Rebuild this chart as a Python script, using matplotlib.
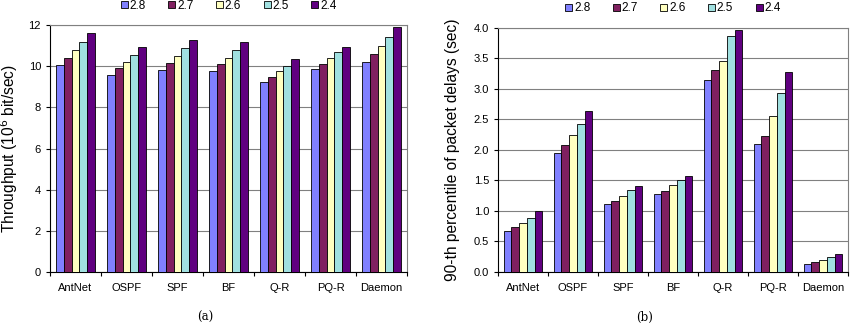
import matplotlib
matplotlib.use("Agg")
import matplotlib.pyplot as plt
import numpy as np

plt.rcParams["font.family"] = ["Liberation Sans", "DejaVu Sans"]

# ── 数据 ──────────────────────────────────────────────────────────────
categories = ["AntNet", "OSPF", "SPF", "BF", "Q-R", "PQ-R", "Daemon"]
series_labels = ["2.8", "2.7", "2.6", "2.5", "2.4"]

throughput_28 = [10.05, 9.59, 9.82, 9.79, 9.24, 9.87, 10.21]
throughput_27 = [10.42, 9.90, 10.18, 10.11, 9.50, 10.13, 10.59]
throughput_26 = [10.78, 10.23, 10.50, 10.42, 9.79, 10.39, 10.99]
throughput_25 = [11.19, 10.57, 10.89, 10.81, 10.02, 10.67, 11.41]
throughput_24 = [11.63, 10.94, 11.30, 11.20, 10.37, 10.93, 11.90]

delay_28 = [0.67, 1.95, 1.11, 1.27, 3.14, 2.09, 0.13]
delay_27 = [0.74, 2.08, 1.16, 1.33, 3.31, 2.23, 0.16]
delay_26 = [0.80, 2.24, 1.24, 1.42, 3.46, 2.56, 0.20]
delay_25 = [0.89, 2.43, 1.34, 1.51, 3.86, 2.93, 0.24]
delay_24 = [1.00, 2.63, 1.41, 1.58, 3.97, 3.27, 0.30]

colors = ["#8080ff", "#802060", "#ffffc0", "#a0e0e0", "#600080"]


def _draw_panel(ax, series, ylim, yticks, yfmt, ylabel):
    """Excel 风格分组柱状图。"""
    x = np.arange(len(categories))
    w = 0.155
    for i, (vals, lab, col) in enumerate(zip(series, series_labels, colors)):
        ax.bar(x + (i - 2) * w, vals, width=w, color=col, edgecolor="black",
               linewidth=0.6, label=lab, zorder=3)

    ax.set_xlim(-0.5, len(categories) - 0.5)
    ax.set_ylim(*ylim)
    ax.set_yticks(yticks)
    ax.set_yticklabels([yfmt.format(v) for v in yticks])
    ax.set_xticks(x)
    ax.set_xticklabels(categories)
    ax.set_xticks(np.arange(len(categories) + 1) - 0.5, minor=True)
    ax.tick_params(axis="x", which="major", length=0, pad=8, labelsize=8)
    ax.tick_params(axis="x", which="minor", length=3, direction="out", width=0.8)
    ax.tick_params(axis="y", length=3, direction="out", width=0.8, labelsize=8)

    ax.grid(axis="y", color="#808080", linewidth=0.8, zorder=0)
    for s in ("top", "right"):
        ax.spines[s].set_color("#808080")
        ax.spines[s].set_linewidth(0.8)
    for s in ("left", "bottom"):
        ax.spines[s].set_color("black")
        ax.spines[s].set_linewidth(0.8)

    ax.set_ylabel(ylabel, fontsize=11.2)
    ax.legend(loc="lower center", bbox_to_anchor=(0.5, 1.035), ncol=5,
              frameon=False, fontsize=8.5, handlelength=0.6, handleheight=0.6,
              handletextpad=0.15, columnspacing=1.9, borderaxespad=0.0)


fig = plt.figure(figsize=(8.51, 3.24), dpi=100, facecolor="white")

ax1 = fig.add_axes([0.0588, 0.1605, 0.4195, 0.762])
_draw_panel(ax1,
            [throughput_28, throughput_27, throughput_26, throughput_25, throughput_24],
            (0, 12), [0, 2, 4, 6, 8, 10, 12], "{:g}",
            "Throughput (10$^6$ bit/sec)")
ax1.yaxis.set_label_coords(-0.083, 0.5)

ax2 = fig.add_axes([0.5852, 0.1605, 0.4113, 0.754])
_draw_panel(ax2,
            [delay_28, delay_27, delay_26, delay_25, delay_24],
            (0, 4), [0, 0.5, 1.0, 1.5, 2.0, 2.5, 3.0, 3.5, 4.0], "{:.1f}",
            "90-th percentile of packet delays (sec)")
ax2.yaxis.set_label_coords(-0.108, 0.5)

fig.text(205 / 851, 1 - 317 / 324, "(a)", ha="center", va="center",
         family=["DejaVu Serif"], fontsize=8.5)
fig.text(645 / 851, 1 - 317 / 324, "(b)", ha="center", va="center",
         family=["DejaVu Serif"], fontsize=8.5)

fig.savefig("out.png", dpi=100, facecolor=fig.get_facecolor())
